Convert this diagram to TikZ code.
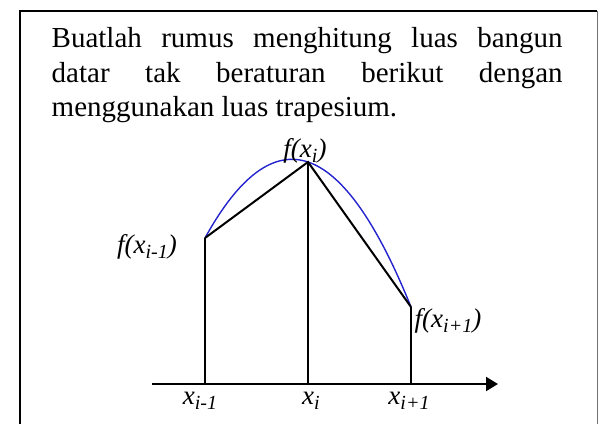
\documentclass[tikz,border=0pt]{standalone}
\usepackage{fontspec}
\setmainfont{Liberation Serif}
\usetikzlibrary{arrows.meta}
\definecolor{kurva}{RGB}{35,35,205}
\newcommand{\idx}[1]{\raisebox{-5pt}{\fontsize{20}{20}\selectfont #1}}

\begin{document}
\begin{tikzpicture}[%
    x=1pt, y=1pt,                           % work in points
    >={Triangle[length=12pt,width=14pt]},   % filled axis tip
    ]
% -------------------------------------------------
% Styles
\tikzset{
  txt/.style={inner sep=0pt, text width=511pt, align=justify,
              font=\fontsize{29}{34.5}\selectfont},
  lbl/.style={inner sep=0pt, anchor=base, font=\fontsize{27}{27}\selectfont\itshape},
  ln/.style={draw, line width=2pt},
  lnk/.style={draw, line width=2.6pt},
  cv/.style={draw=kurva, line width=1.4pt},
  ax/.style={->, draw, line width=2pt},
  fr/.style={draw, line width=1.6pt}
}
\useasboundingbox (0,0) rectangle (598,424);
% -------------------------------------------------
% Frame and question
\draw[fr] (20,0) -- (20,413) -- (597,413);
\draw[line width=0.8pt, black!55] (597,413) -- (597,0);
\node[txt, anchor=base west] (soal) at (51.5,376)
  {Buatlah rumus menghitung luas bangun\linebreak
   datar tak beraturan berikut dengan\linebreak
   menggunakan luas trapesium.};
% -------------------------------------------------
% Points on the axis and on the curve
\coordinate (ax0) at (152,40);
\coordinate (ax1) at (498,40);
\coordinate (kA) at (205,40);
\coordinate (kB) at (308,40);
\coordinate (kC) at (411,40);
\coordinate (pA) at (205,186);
\coordinate (pB) at (308,262);
\coordinate (pC) at (411,117);

\draw[cv] (pA) .. controls (273.7,310.3) and (342.3,287.3) .. (pC);	%f(x)
\draw[ln] (kA) -- (pA);
\draw[ln] (kB) -- (pB);
\draw[lnk] (kC) -- (pC);
\draw[ln] (pA) -- (pB) -- (pC);	%trapesium tops
\draw[ax] (ax0) -- (ax1);
% -------------------------------------------------
% Labels
\node[lbl] (fB) at (305,266) {f(x\idx{i})};
\node[lbl] (fA) at (147,171) {f(x\idx{i-1})};
\node[lbl] (fC) at (448,97) {f(x\idx{i+1})};
\node[lbl] (xA) at (200,20) {x\idx{i-1}};
\node[lbl] (xB) at (311,20) {x\idx{i}};
\node[lbl] (xC) at (409,20) {x\idx{i+1}};
% -------------------------------------------------
\end{tikzpicture}
\end{document}
